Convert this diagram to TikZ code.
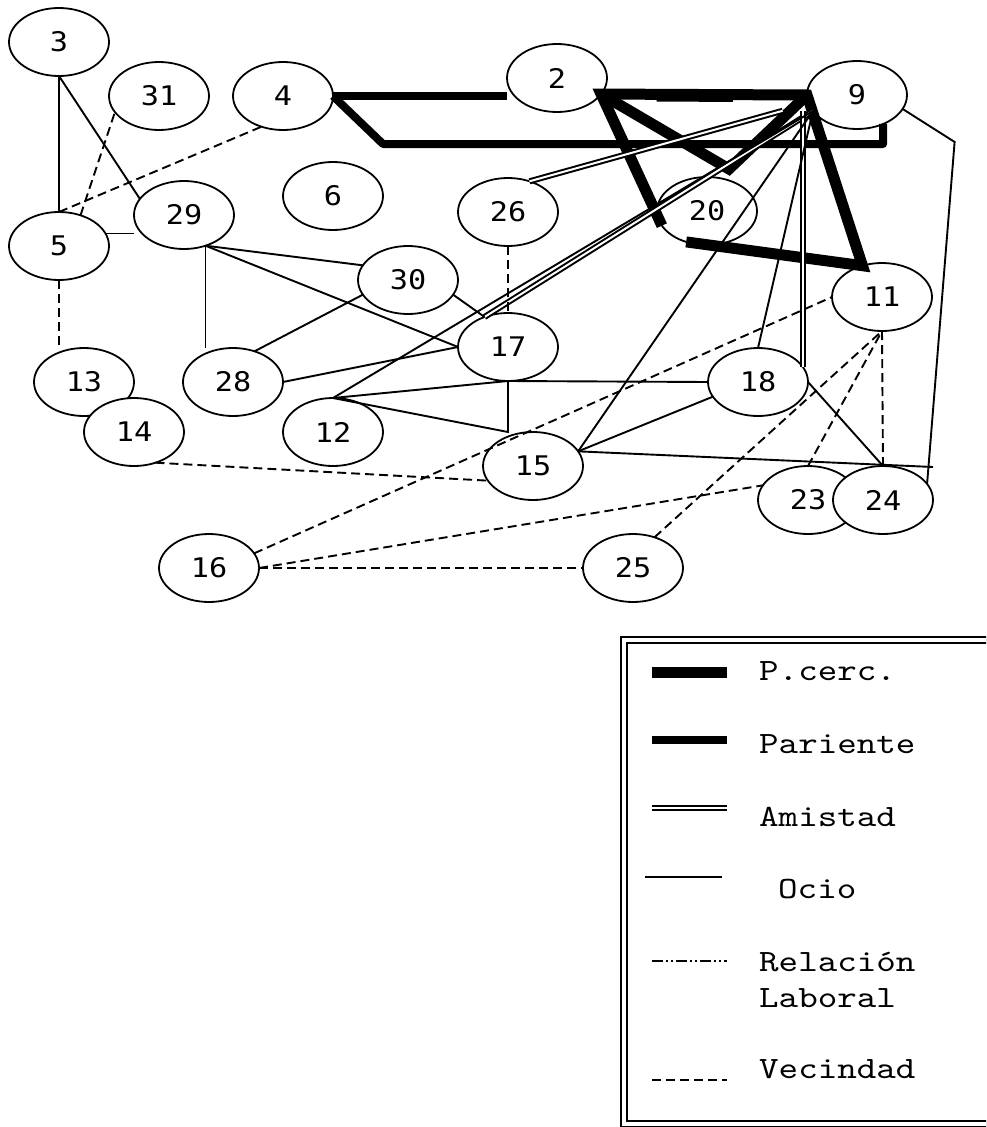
\documentclass[tikz,border=0pt]{standalone}
\usepackage{fontspec}
\newfontfamily\nodefont[FakeStretch=1.12]{DejaVu Sans Mono}
\newfontfamily\leyfont[FakeStretch=1.2]{lmmono10-regular.otf}
\usetikzlibrary{calc,shapes.geometric}

\begin{document}
\begin{tikzpicture}[x=1pt,y=-1pt,
    persona/.style={ellipse,draw,fill=white,line width=1.8pt,minimum width=100pt,
                    minimum height=68pt,inner sep=0pt,outer sep=0pt,
                    font=\nodefont\fontsize{27}{27}\selectfont},
    leyenda/.style={anchor=base west,inner sep=0pt,font=\leyfont\fontsize{31}{36}\selectfont},
    pcerc/.style={line width=11pt},
    pariente/.style={line width=8pt},
    amistad/.style={double,line width=2pt,double distance=2pt},
    ocio/.style={line width=1.9pt},
    laboral/.style={line width=1.9pt,dash pattern=on 11pt off 3pt on 2pt off 3pt on 2pt off 3pt},
    vecindad/.style={line width=1.9pt,dash pattern=on 9pt off 5pt}]
    \useasboundingbox (0,0) rectangle (986,1127);
    \clip (0,0) rectangle (986,1127);

    % personas
    \node[persona] (n3) at (59,42) {3};
    \node[persona] (n31) at (159,96) {31};
    \node[persona] (n4) at (283,96) {4};
    \node[persona] (n2) at (557,78) {2};
    \node[persona] (n9) at (857,95) {9};
    \node[persona] (n6) at (333,196) {6};
    \node[persona] (n29) at (184,215) {29};
    \node[persona] (n5) at (59,246) {5};
    \node[persona] (n26) at (508,212) {26};
    \node[persona] (n20) at (707,211) {20};
    \node[persona] (n30) at (408,280) {30};
    \node[persona] (n11) at (882,297) {11};
    \node[persona] (n17) at (508,347) {17};
    \node[persona] (n13) at (84,382) {13};
    \node[persona] (n28) at (233,382) {28};
    \node[persona] (n18) at (758,382) {18};
    \node[persona] (n14) at (134,432) {14};
    \node[persona] (n12) at (333,432) {12};
    \node[persona] (n15) at (533,466) {15};
    \node[persona] (n23) at (808,500) {23};
    \node[persona] (n24) at (883,500) {24};
    \node[persona] (n16) at (209,568) {16};
    \node[persona] (n25) at (633,568) {25};

    % pariente
    \draw[pariente] (n4.east) -- (n4.east -| n2.west);
    \draw[pariente,line join=round] (n4.east) -- ++(50,48) -| (n9.312);

    % pariente cercano
    \draw[pcerc] (n20.198) -- (n2.340) -- (n9.west) -- (n11.122) -- (n20.236);
    \draw[pcerc] (n2.340) -- ($(n20.north)+(22,-8)$) -- (n9.west);
    \draw[line width=2.5pt] ($(n2.340)!.27!(n9.west)+(0,6)$) -- ($(n2.340)!.64!(n9.west)+(0,6)$);

    % amistad
    \draw[amistad,shorten >=27pt] (n26.55) -- (n9.190);
    \draw[amistad] (n17.128) -- (n9.200);
    \draw[amistad] (n18.18 |- n9.200) -- (n18.18);

    % ocio
    \draw[ocio] (n3.south) -- (n5.north);
    \draw[ocio] (n3.south) -- (n29.160);
    \draw[ocio] (n5.15) -- (n5.15 -| n29.west);
    \draw[ocio] (n29.305) -- (n30.162);
    \draw[ocio] (n29.305) -- (n17.west);
    \draw[ocio] (n29.305) -- (n29.305 |- n28.north);
    \draw[ocio] (n30.198) -- (n28.55);
    \draw[ocio] (n30.342) -- (n17.128);
    \draw[ocio] (n28.east) -- (n17.west);
    \draw[ocio] (n12.north) -- (n17.south);
    \draw[ocio] (n12.north) -- (n17.south |- n12.center) -- (n17.south);
    \draw[ocio] (n17.south) -- (n18.west);
    \draw[ocio] (n12.north) -- (n9.200);
    \draw[ocio] (n15.18) -- (n9.200);
    \draw[ocio] (n18.north) -- (n9.200);
    \draw[ocio] (n18.198) -- (n15.18);
    \draw[ocio] (n18.east) -- (n24.north);
    \draw[ocio] (n9.343) -- ++(52,33) -- (n24.20);
    \coordinate (k24) at ($(n24.north)+(50,1)$);
    \draw[ocio] (n15.18) -- (k24);

    % vecindad
    \draw[vecindad] (n26.south) -- (n17.north);
    \draw[vecindad] (n5.55) -- (n31.200);
    \draw[vecindad] (n5.north) -- (n4.235);
    \draw[vecindad] (n5.south) -- (n5.south |- n13.north);
    \draw[vecindad] (n14.305) -- (n15.198);
    \draw[vecindad] (n16.18) -- (n11.west);
    \draw[vecindad] (n16.east) -- (n23.162);
    \draw[vecindad] (n16.east) -- (n25.west);
    \draw[vecindad] (n25.55) -- (n11.south);
    \draw[vecindad] (n23.north) -- (n11.south);
    \draw[vecindad] (n24.north) -- (n11.south);

    % leyenda
    \draw[double,line width=1.8pt,double distance=3.5pt] (624,640) rectangle (1010,1124);
    \draw[pcerc] (652,672) -- (727,672);
    \node[leyenda] (tpc) at (759,680) {P.cerc.};
    \draw[pariente] (652,740) -- (727,740);
    \node[leyenda] (tpar) at (759,753) {Pariente};
    \draw[amistad] (652,808) -- (727,808);
    \node[leyenda] (tam) at (759,826) {Amistad};
    \draw[ocio] (645,877) -- (722,877);
    \node[leyenda] (toc) at (778,898) {Ocio};
    \draw[laboral] (652,961) -- (727,961);
    \node[leyenda] (trel) at (759,971) {Relación};
    \node[leyenda] (tlab) at (759,1007) {Laboral};
    \draw[vecindad] (652,1080) -- (727,1080);
    \node[leyenda] (tvec) at (759,1078) {Vecindad};
\end{tikzpicture}
\end{document}
